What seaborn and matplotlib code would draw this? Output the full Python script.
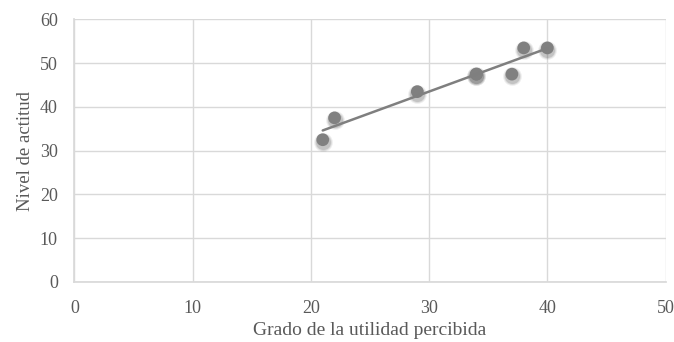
import matplotlib
matplotlib.use("Agg")
import matplotlib.pyplot as plt
import seaborn as sns
import pandas as pd
import numpy as np

# data
utilidad = [21, 22, 29, 34, 34, 37, 38, 40]
actitud = [32.5, 37.5, 43.5, 47.5, 47.5, 47.5, 53.5, 53.5]
x_ticks = [0, 10, 20, 30, 40, 50]
y_ticks = [0, 10, 20, 30, 40, 50, 60]

df = pd.DataFrame({"utilidad": utilidad, "actitud": actitud})

sns.set_theme(style="white")
plt.rcParams["font.family"] = ["Liberation Serif", "DejaVu Serif"]

fig = plt.figure(figsize=(6.74, 3.42), dpi=100)
ax = fig.add_axes([0.1105, 0.176, 0.877, 0.767])

# soft blurred shadow under the points
for size, alpha in [(185, 0.08), (150, 0.12), (118, 0.18)]:
    ax.scatter(df["utilidad"], df["actitud"] - 0.45, s=size, color="#505050",
               alpha=alpha, linewidths=0, zorder=2)
sns.scatterplot(data=df, x="utilidad", y="actitud", ax=ax, s=84, color="#808080",
                edgecolor="none", zorder=3, legend=False)
sns.regplot(data=df, x="utilidad", y="actitud", ax=ax, scatter=False, ci=None,
            line_kws={"color": "#7f7f7f", "linewidth": 1.8, "zorder": 4})

ax.set_xlim(0, 50)
ax.set_ylim(0, 60)
ax.set_xticks(x_ticks)
ax.set_yticks(y_ticks)
ax.grid(True, color="#d9d9d9", linewidth=1)
ax.set_axisbelow(True)
for side in ["top", "right"]:
    ax.spines[side].set_visible(False)
for side in ["left", "bottom"]:
    ax.spines[side].set_color("#d9d9d9")
ax.tick_params(colors="#595959", labelsize=13, length=0)
ax.tick_params(axis="x", pad=13)
ax.tick_params(axis="y", pad=12)
ax.set_xlabel("Grado de la utilidad percibida", fontsize=14, color="#595959", labelpad=4)
ax.set_ylabel("Nivel de actitud", fontsize=13.5, color="#595959", labelpad=4)

fig.savefig("out.png", dpi=100)
